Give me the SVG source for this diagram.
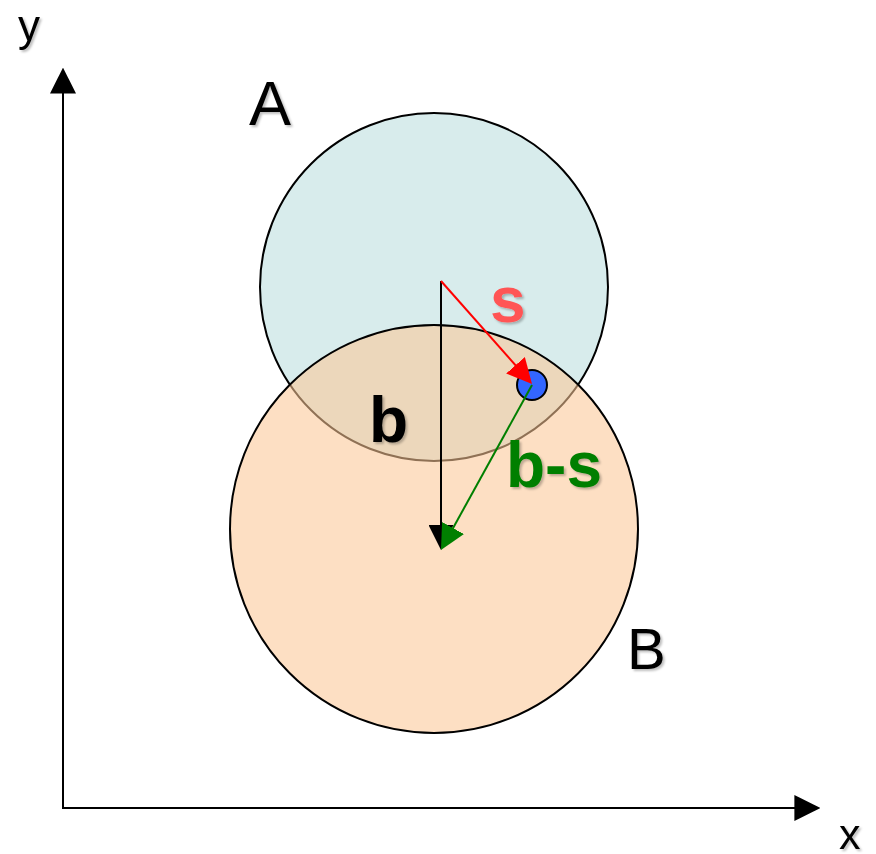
<svg xmlns="http://www.w3.org/2000/svg" width="876" height="854" viewBox="0 0 876 854">
  <style>
    .lbl { font-family: "Liberation Sans", Arial, sans-serif; filter: url(#shadow); }
    .bold { font-weight: bold; }
    .axis { stroke: #000; stroke-width: 2; fill: none; }
    .vec { stroke-width: 2; fill: none; }
  </style>
  <defs>
    <filter id="shadow" x="-20%" y="-20%" width="150%" height="150%">
      <feDropShadow dx="2" dy="2" stdDeviation="1.2" flood-color="#000" flood-opacity="0.25"/>
    </filter>
    <marker id="ahBlack" viewBox="0 0 10 10" refX="6" refY="5" markerWidth="25" markerHeight="25" markerUnits="userSpaceOnUse" orient="auto">
      <path d="M0,0 L10,5 L0,10 z" fill="#000"/>
    </marker>
    <marker id="ahRed" viewBox="0 0 10 10" refX="6" refY="5" markerWidth="25" markerHeight="25" markerUnits="userSpaceOnUse" orient="auto">
      <path d="M0,0 L10,5 L0,10 z" fill="#FF0000"/>
    </marker>
    <marker id="ahGreen" viewBox="0 0 10 10" refX="6" refY="5" markerWidth="25" markerHeight="25" markerUnits="userSpaceOnUse" orient="auto">
      <path d="M0,0 L10,5 L0,10 z" fill="#007F00"/>
    </marker>
    <marker id="ahAxis" viewBox="0 0 10 10" refX="6" refY="5" markerWidth="26" markerHeight="26" markerUnits="userSpaceOnUse" orient="auto">
      <path d="M0,0 L10,5 L0,10 z" fill="#000"/>
    </marker>
  </defs>

  <g id="axes">
    <line class="axis" x1="63" y1="809" x2="63" y2="78" marker-end="url(#ahAxis)"/>
    <line class="axis" x1="62" y1="808" x2="810" y2="808" marker-end="url(#ahAxis)"/>
    <text class="lbl" x="18" y="41" font-size="44">y</text>
    <text class="lbl" x="839" y="849" font-size="43">x</text>
  </g>

  <g id="circleA">
    <circle cx="434" cy="287" r="174" fill="#D8ECEC" stroke="#000" stroke-width="2"/>
    <text class="lbl" x="249" y="125" font-size="63">A</text>
  </g>

  <g id="circleB">
    <circle cx="434" cy="529" r="204" fill="#FBC796" fill-opacity="0.57" stroke="#000" stroke-width="2"/>
    <text class="lbl" x="627" y="669" font-size="58">B</text>
  </g>

  <g id="point">
    <circle cx="532" cy="385" r="15" fill="#3366FF" stroke="#000" stroke-width="2"/>
  </g>

  <g id="connectors">
    <line class="vec" stroke="#000" x1="441" y1="281" x2="441" y2="540" marker-end="url(#ahBlack)"/>
    <line class="vec" stroke="#FF0000" x1="441" y1="281" x2="525.4" y2="376.5" marker-end="url(#ahRed)"/>
    <line class="vec" stroke="#007F00" x1="532" y1="385" x2="445.8" y2="541.2" marker-end="url(#ahGreen)"/>
  </g>

  <g id="labels">
    <text class="lbl bold" x="490" y="322" font-size="64" fill="#FF5555">s</text>
    <text class="lbl bold" x="369" y="442" font-size="64" fill="#000">b</text>
    <text class="lbl bold" x="506" y="487" font-size="64" fill="#007F00">b-s</text>
  </g>
</svg>
